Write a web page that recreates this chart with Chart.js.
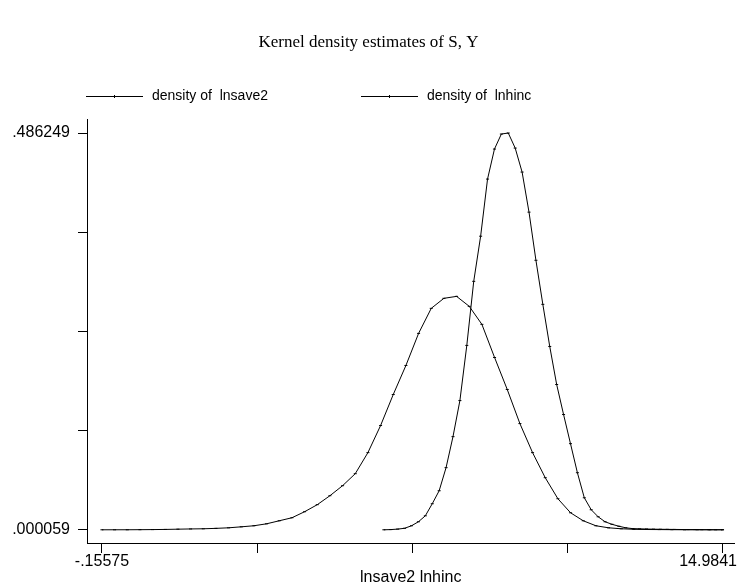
<!DOCTYPE html>
<html>
<head>
<meta charset="utf-8">
<script src="https://cdn.jsdelivr.net/npm/chart.js@4"></script>
<style>
  body { margin: 0; background: #fff; }
  #wrap { width: 737px; height: 588px; }
</style>
</head>
<body>
<div id="wrap"><canvas id="myChart" width="737" height="588"></canvas></div>
<script>
// evaluation grid + density values
const lnsave2X = [-0.1558, 0.1532, 0.4622, 0.7712, 1.0801, 1.3891, 1.6981, 2.0071, 2.3161, 2.6250,
                  2.9340, 3.2430, 3.5520, 3.8609, 4.1699, 4.4789, 4.7879, 5.0969, 5.4058, 5.7148,
                  6.0238, 6.3328, 6.6417, 6.9507, 7.2597, 7.5687, 7.8777, 8.1866, 8.4956, 8.8046,
                  9.1136, 9.4225, 9.7315, 10.0405, 10.3495, 10.6585, 10.9674, 11.2764, 11.5854, 11.8944,
                  12.2033, 12.5123, 12.8213, 13.1303, 13.4393, 13.7482, 14.0572, 14.3662, 14.6752, 14.9841];
const lnsave2Y = [0.00006, 0.00008, 0.0001, 0.0002, 0.0003, 0.0005, 0.0008, 0.0011, 0.0013, 0.0018,
                  0.0025, 0.0037, 0.0050, 0.0074, 0.0111, 0.0148, 0.0222, 0.0308, 0.0418, 0.0541,
                  0.0688, 0.0946, 0.1278, 0.1658, 0.2014, 0.2407, 0.2714, 0.2837, 0.2861, 0.2739,
                  0.2518, 0.2112, 0.1720, 0.1302, 0.0946, 0.0639, 0.0381, 0.0209, 0.0111, 0.0050,
                  0.0025, 0.0013, 0.0007, 0.0004, 0.0003, 0.0002, 0.0001, 0.0001, 0.0001, 0.0001];

const lnhincX = [6.7220, 6.8906, 7.0592, 7.2278, 7.3964, 7.5651, 7.7337, 7.9023, 8.0709, 8.2395,
                 8.4081, 8.5767, 8.7453, 8.9139, 9.0825, 9.2512, 9.4198, 9.5884, 9.7570, 9.9256,
                 10.0942, 10.2628, 10.4314, 10.6000, 10.7686, 10.9373, 11.1059, 11.2745, 11.4431, 11.6117,
                 11.7803, 11.9489, 12.1175, 12.2861, 12.4547, 12.6234, 12.7920, 12.9606, 13.1292, 13.2978,
                 13.4664, 13.6350, 13.8036, 13.9722, 14.1408, 14.3095, 14.4781, 14.6467, 14.8153, 14.9841];
const lnhincY = [0.00006, 0.0003, 0.0009, 0.0019, 0.0050, 0.0099, 0.0172, 0.0320, 0.0479, 0.0762,
                 0.1142, 0.1584, 0.2260, 0.3045, 0.3598, 0.4298, 0.4666, 0.4850, 0.486249, 0.4678,
                 0.4384, 0.3893, 0.3303, 0.2763, 0.2247, 0.1781, 0.1413, 0.1056, 0.0700, 0.0393,
                 0.0246, 0.0160, 0.0099, 0.0068, 0.0044, 0.0025, 0.0015, 0.0012, 0.0010, 0.0008,
                 0.0007, 0.0006, 0.0005, 0.0004, 0.0003, 0.0003, 0.0002, 0.0002, 0.0001, 0.0001];

const seriesNames = ['density of  lnsave2', 'density of  lnhinc'];

const xTicks = [-0.15575, 3.62921, 7.41418, 11.19914, 14.9841];
const xTickLabels = ['-.15575', '', '', '', '14.9841'];
const yTicks = [0.000059, 0.1216065, 0.243154, 0.3647015, 0.486249];
const yTickLabels = ['.000059', '', '', '', '.486249'];

const chartTitle = 'Kernel density estimates of S, Y';
const xTitle = 'lnsave2 lnhinc';

const sans = '"Liberation Sans", Arial, sans-serif';

const toPoints = (xs, ys) => xs.map((x, i) => ({x: x, y: ys[i]}));

// legend + x tick labels drawn by hand so they sit where the original has them
const extras = {
    id: 'extras',
    afterDraw(chart) {
        const ctx = chart.ctx;
        const xs = chart.scales.x;
        const legendStarts = [86, 361];
        ctx.save();
        ctx.fillStyle = '#000';
        ctx.strokeStyle = '#000';
        ctx.lineWidth = 1;

        ctx.font = '14px ' + sans;
        ctx.textBaseline = 'middle';
        ctx.textAlign = 'left';
        chart.data.datasets.forEach((ds, i) => {
            const x0 = legendStarts[i];
            ctx.beginPath();
            ctx.moveTo(x0, 96.5);
            ctx.lineTo(x0 + 57, 96.5);
            ctx.moveTo(x0 + 28.5, 95);
            ctx.lineTo(x0 + 28.5, 98);
            ctx.stroke();
            ctx.fillText(ds.label, x0 + 66, 96);
        });

        ctx.font = '16px ' + sans;
        ctx.textAlign = 'center';
        ctx.fillText(xTickLabels[0], xs.getPixelForValue(xTicks[0]), 562);
        ctx.textAlign = 'right';
        ctx.fillText(xTickLabels[xTickLabels.length - 1], chart.width, 562);
        ctx.restore();
    }
};

const lineStyle = {
    borderColor: '#000',
    backgroundColor: '#000',
    borderWidth: 1,
    fill: false,
    tension: 0,
    pointStyle: 'line',
    pointRadius: 1.5,
    pointBorderWidth: 1,
    pointHoverRadius: 0
};

const config = {
    type: 'line',
    data: {
        datasets: [
            Object.assign({label: seriesNames[0], data: toPoints(lnsave2X, lnsave2Y)}, lineStyle),
            Object.assign({label: seriesNames[1], data: toPoints(lnhincX, lnhincY)}, lineStyle)
        ]
    },
    options: {
        responsive: false,
        animation: false,
        events: [],
        layout: { padding: 0 },
        scales: {
            x: {
                type: 'linear',
                min: -0.52027,
                max: 15.27571,
                afterBuildTicks: s => { s.ticks = xTicks.map(v => ({value: v})); },
                afterFit: s => { s.height = 45; },
                grid: { drawOnChartArea: false, drawTicks: true, tickLength: 10, color: '#000' },
                border: { display: true, color: '#000', width: 1 },
                ticks: { display: false },
                title: {
                    display: true,
                    text: xTitle,
                    color: '#000',
                    font: { family: sans, size: 16 },
                    padding: { top: 0, bottom: 1 }
                }
            },
            y: {
                type: 'linear',
                min: -0.016129,
                max: 0.503437,
                afterBuildTicks: s => { s.ticks = yTicks.map(v => ({value: v})); },
                afterFit: s => { s.width = 87; },
                grid: { drawOnChartArea: false, drawTicks: true, tickLength: 9, color: '#000' },
                border: { display: true, color: '#000', width: 1 },
                ticks: {
                    color: '#000',
                    padding: 8,
                    autoSkip: false,
                    font: { family: sans, size: 16 },
                    callback: (v, i) => yTickLabels[i]
                }
            }
        },
        plugins: {
            legend: { display: false },
            tooltip: { enabled: false },
            title: {
                display: true,
                text: chartTitle,
                color: '#000',
                font: { family: '"Liberation Serif", "Times New Roman", serif', size: 17, weight: 'normal' },
                padding: { top: 32, bottom: 66.6 }
            }
        }
    },
    plugins: [extras]
};

const myChart = new Chart(document.getElementById('myChart'), config);
</script>
</body>
</html>
